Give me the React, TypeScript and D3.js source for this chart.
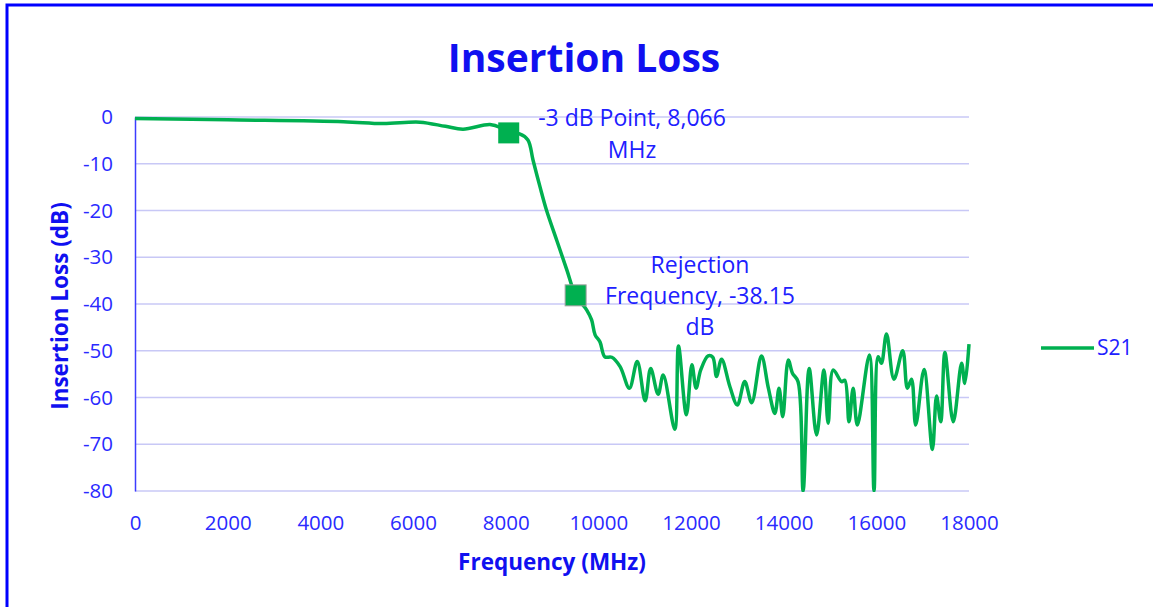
import React, { useEffect, useRef } from 'react';
import * as d3 from 'd3';

// S21 sweep (MHz, dB)
const freqMHz = [
  0, 2000, 4500, 5350, 6150, 6700, 7080, 7660, 7900, 8066, 8300, 8480, 8590, 8740, 8880,
  9100, 9320, 9510, 9750, 9855, 9930, 10035, 10140, 10290, 10470, 10670, 10840, 11010,
  11130, 11290, 11400, 11650, 11730, 11900, 12020, 12110, 12210, 12370, 12470, 12550,
  12660, 12840, 13000, 13160, 13310, 13520, 13670, 13810, 13900, 13980, 14100, 14190,
  14310, 14420, 14550, 14710, 14870, 14960, 15070, 15250, 15320, 15410, 15500, 15590,
  15850, 15950, 16040, 16110, 16220, 16380, 16570, 16670, 16760, 16850, 17030, 17210,
  17300, 17390, 17480, 17660, 17840, 17910, 18000,
];
const s21dB = [
  -0.3, -0.6, -1.0, -1.4, -1.1, -2.0, -2.6, -1.6, -2.3, -3.4, -3.6, -4.9, -9.2, -14.9, -19.9,
  -26.3, -32.7, -38.15, -41.3, -43.4, -46.6, -48.1, -51.3, -51.4, -53.4, -58.0, -52.3, -60.7,
  -53.8, -59.3, -55.2, -66.8, -49.0, -63.7, -53.0, -58.0, -54.1, -51.1, -51.4, -55.5,
  -51.8, -57.7, -61.6, -56.6, -61.1, -51.1, -58.0, -63.4, -58.0, -64.1, -52.0, -54.8,
  -56.6, -80, -53.8, -68.0, -54.1, -65.5, -54.1, -56.6, -56.3, -65.2, -58.0, -65.9,
  -50.9, -80, -51.3, -52.7, -46.4, -56.1, -50.0, -58.0, -56.1, -65.9, -54.0, -71.1,
  -59.7, -65.2, -50.4, -65.2, -52.7, -57.0, -48.6,
];

// labelled points
const markerFreq = [8066, 9510];
const markerDB = [-3.4, -38.15];
const markerLabels = [
  ['-3 dB Point, 8,066', 'MHz'],
  ['Rejection', 'Frequency, -38.15', 'dB'],
];

const xTicks = [0, 2000, 4000, 6000, 8000, 10000, 12000, 14000, 16000, 18000];
const yTicks = [0, -10, -20, -30, -40, -50, -60, -70, -80];

const W = 1153;
const H = 607;
const FONT = '"Open Sans", Lato, sans-serif';
const GREEN = '#00b050';

const App = () => {
  const svgRef = useRef(null);

  useEffect(() => {
    const svg = d3.select(svgRef.current);
    svg.selectAll('*').remove();

    const left = 135, right = 969, top = 117, bottom = 491;

    const x = d3.scaleLinear().domain([0, 18000]).range([left, right]);
    const y = d3.scaleLinear().domain([-80, 0]).range([bottom, top]);

    // outer frame
    svg.append('rect')
      .attr('x', 7).attr('y', 5)
      .attr('width', W + 20).attr('height', H + 20)
      .attr('fill', 'white')
      .attr('stroke', '#0000ff')
      .attr('stroke-width', 3);

    // title
    svg.append('text')
      .attr('x', 584).attr('y', 72)
      .attr('text-anchor', 'middle')
      .attr('font-family', FONT)
      .attr('font-weight', 'bold')
      .attr('font-size', 39)
      .attr('fill', '#1010f0')
      .text('Insertion Loss');

    // gridlines
    svg.append('g')
      .selectAll('line')
      .data(yTicks)
      .enter()
      .append('line')
      .attr('x1', left).attr('x2', right)
      .attr('y1', d => y(d)).attr('y2', d => y(d))
      .attr('stroke', '#c8c8f6')
      .attr('stroke-width', 1.5);

    // y axis
    const yAxis = svg.append('g')
      .attr('transform', `translate(${left},0)`)
      .call(d3.axisLeft(y).tickValues(yTicks).tickFormat(d => String(d)).tickSize(0).tickPadding(22));
    yAxis.select('.domain').attr('stroke', '#3c3cff').attr('stroke-width', 1.5);
    yAxis.selectAll('text')
      .attr('font-family', FONT)
      .attr('font-size', 20.5)
      .attr('fill', '#2a2aff');

    // x axis
    const xAxis = svg.append('g')
      .attr('transform', `translate(0,${bottom})`)
      .call(d3.axisBottom(x).tickValues(xTicks).tickFormat(d => String(d)).tickSize(0).tickPadding(24));
    xAxis.select('.domain').remove();
    xAxis.selectAll('text')
      .attr('font-family', FONT)
      .attr('font-size', 20.5)
      .attr('fill', '#2a2aff');

    // axis titles
    svg.append('text')
      .attr('x', 552).attr('y', 570)
      .attr('text-anchor', 'middle')
      .attr('font-family', FONT)
      .attr('font-weight', 'bold')
      .attr('font-size', 22.5)
      .attr('fill', '#1010f0')
      .text('Frequency (MHz)');

    svg.append('text')
      .attr('transform', 'translate(68,306) rotate(-90)')
      .attr('text-anchor', 'middle')
      .attr('font-family', FONT)
      .attr('font-weight', 'bold')
      .attr('font-size', 22.5)
      .attr('fill', '#1010f0')
      .text('Insertion Loss (dB)');

    // S21 trace
    const pts = freqMHz.map((f, i) => [f, s21dB[i]]);
    const line = d3.line()
      .x(d => x(d[0]))
      .y(d => y(d[1]))
      .curve(d3.curveCatmullRom.alpha(0.5));

    svg.append('clipPath').attr('id', 'plot-clip')
      .append('rect')
      .attr('x', left - 5).attr('y', top - 10)
      .attr('width', right - left + 10).attr('height', bottom - top + 11);

    svg.append('path')
      .datum(pts)
      .attr('clip-path', 'url(#plot-clip)')
      .attr('fill', 'none')
      .attr('stroke', GREEN)
      .attr('stroke-width', 3.5)
      .attr('stroke-linejoin', 'round')
      .attr('d', line);

    // markers
    svg.selectAll('.marker')
      .data(markerFreq)
      .enter()
      .append('rect')
      .attr('class', 'marker')
      .attr('x', (d) => x(d) - 10.5)
      .attr('y', (d, i) => y(markerDB[i]) - 10.5)
      .attr('width', 21).attr('height', 21)
      .attr('fill', GREEN)
      .attr('stroke', (d, i) => (i === 1 ? '#a0a0a0' : 'none'))
      .attr('stroke-width', 1);

    // marker labels
    const labelPos = [[632, 126, 32], [700, 273, 31]];
    markerLabels.forEach((lines, i) => {
      const t = svg.append('text')
        .attr('text-anchor', 'middle')
        .attr('font-family', FONT)
        .attr('font-size', 23)
        .attr('fill', '#2020ff');
      lines.forEach((s, j) => {
        t.append('tspan')
          .attr('x', labelPos[i][0])
          .attr('y', labelPos[i][1] + j * labelPos[i][2])
          .text(s);
      });
    });

    // legend
    svg.append('line')
      .attr('x1', 1041).attr('x2', 1094)
      .attr('y1', 348).attr('y2', 348)
      .attr('stroke', GREEN)
      .attr('stroke-width', 3.5);
    svg.append('text')
      .attr('x', 1097).attr('y', 355)
      .attr('font-family', FONT)
      .attr('font-size', 21)
      .attr('fill', '#2020ff')
      .text('S21');
  }, []);

  return (
    <svg
      ref={svgRef}
      width={W}
      height={H}
      style={{ position: 'absolute', left: 0, top: 0, background: 'white' }}
    ></svg>
  );
};

export default App;
